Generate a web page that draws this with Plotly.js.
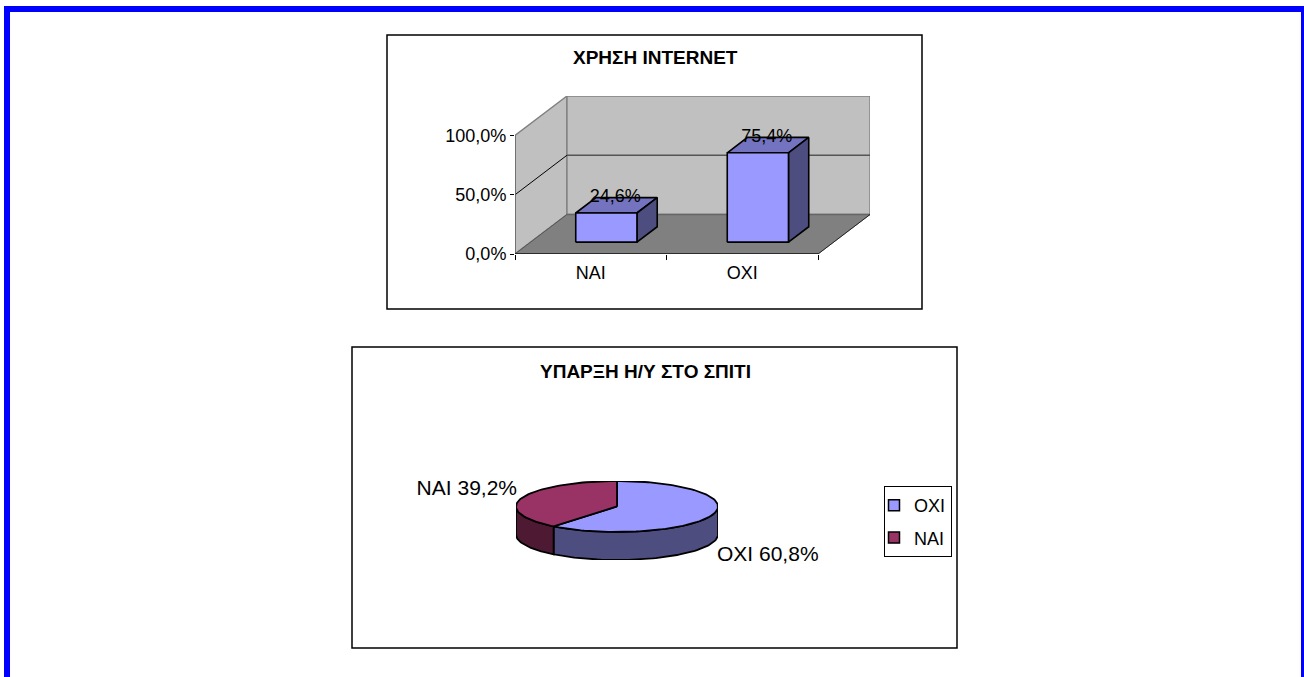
<!DOCTYPE html>
<html><head><meta charset="utf-8">
<script src="https://cdn.plot.ly/plotly-3.0.1.min.js"></script>
<style>html,body{margin:0;padding:0;background:#fff}#c{width:1304px;height:677px}</style>
</head><body><div id="c"></div>
<script>
// Data
const barTitle = 'ΧΡΗΣΗ INTERNET';
const barCategories = ['ΝΑΙ', 'ΟΧΙ'];
const barValues = [24.6, 75.4];
const barTicks = [0, 50, 100];
const pieTitle = 'ΥΠΑΡΞΗ Η/Υ ΣΤΟ ΣΠΙΤΙ';
const pieCategories = ['ΟΧΙ', 'ΝΑΙ'];
const pieValues = [60.8, 39.2];

// Colours
const FILL = ['#9999FF', '#993366'], SIDE = ['#4D4D80', '#4D1933'];
const BARTOP = '#7373BF', WALL = '#C0C0C0', FLOOR = '#808080', EDGE = '#808080';
const W = 1304, H = 677;
const px = v => v / W, py = v => 1 - v / H;
const FONT = 'Liberation Sans, Arial, sans-serif';
const comma = v => v.toFixed(1).replace('.', ',') + '%';

// Pseudo-3D projection of the bar chart: category, value, depth (0 front .. 1 back)
const DX = 0.343, DY = 33.33;
const P = (c, v, d) => [c + d * DX, v + d * DY];
function poly(pts, fill, line, lw, xa) {
  return { type: 'scatter', mode: 'lines', x: pts.map(p => p[0]).concat(pts[0][0]), y: pts.map(p => p[1]).concat(pts[0][1]),
    fill: 'toself', fillcolor: fill, line: { color: line, width: lw }, hoverinfo: 'skip', showlegend: false, xaxis: xa || 'x', yaxis: 'y', cliponaxis: false };
}
function seg(pts, color, lw, xa) {
  return { type: 'scatter', mode: 'lines', x: pts.map(p => p[0]), y: pts.map(p => p[1]), line: { color, width: lw },
    hoverinfo: 'skip', showlegend: false, xaxis: xa || 'x', yaxis: 'y', cliponaxis: false };
}
const nCat = barCategories.length, vMax = barTicks[barTicks.length - 1];
const traces = [];
traces.push(poly([P(0,0,0),P(0,vMax,0),P(0,vMax,1),P(0,0,1)], WALL, EDGE, 1.4));
traces.push(poly([P(0,0,1),P(0,vMax,1),P(nCat,vMax,1),P(nCat,0,1)], WALL, EDGE, 1.4));
traces.push(poly([P(0,0,0),P(nCat,0,0),P(nCat,0,1),P(0,0,1)], FLOOR, FLOOR, 1));
traces.push(seg([P(0,0,1),P(nCat,0,1)], '#666', 1.4));
traces.push(seg([P(0,50,0),P(0,50,1)], '#000', 1));
traces.push(seg([P(0,50,1),P(nCat,50,1)], '#555', 1.4));
traces.push(seg([P(0,0,0),P(0,0,1)], '#555', 1));
traces.push(seg([P(nCat,0,0),P(nCat,0,1)], '#222', 1));
traces.push(seg([P(0,0,0),P(0,vMax,0)], '#666', 1.5, 'x4'));
traces.push(seg([P(0,0,0),P(nCat,0,0)], '#111', 1.4, 'x4'));
const hw = 0.202, d0 = 0.3, d1 = 0.69;
barValues.forEach((v, i) => {
  const c = i + 0.5, a = c - hw, b = c + hw;
  traces.push(poly([P(a,v,d0),P(a,v,d1),P(b,v,d1),P(b,v,d0)], BARTOP, '#000', 1.6));
  traces.push(poly([P(b,0,d0),P(b,v,d0),P(b,v,d1),P(b,0,d1)], SIDE[0], '#000', 1.6));
  traces.push(poly([P(a,0,d0),P(a,v,d0),P(b,v,d0),P(b,0,d0)], FILL[0], '#000', 1.6));
});
traces.push({ type: 'scatter', mode: 'text', x: barValues.map((v,i) => P(i+0.5,v,0.47)[0]), y: barValues.map((v,i) => P(i+0.5,v,0.47)[1]),
  text: barValues.map(comma), textposition: 'top center', textfont: { family: FONT, size: 18, color: '#000' },
  hoverinfo: 'skip', showlegend: false, xaxis: 'x', yaxis: 'y', cliponaxis: false });

// Pseudo-3D pie: each slice's sweep comes from its value
const THICK = 1.1, total = pieValues.reduce((a, b) => a + b, 0), LABR = 1.05, LABDROP = 0.08;
const ang = []; let acc = 0;
pieValues.forEach(v => { ang.push([acc, acc + v / total * 360]); acc += v / total * 360; });
const rad = a => a * Math.PI / 180;
const pt = (a, drop) => [Math.sin(rad(a)), Math.cos(rad(a)) - (drop || 0)];
function arc(a0, a1, drop) { const n = Math.max(2, Math.ceil(Math.abs(a1 - a0) / 2)), o = []; for (let i = 0; i <= n; i++) o.push(pt(a0 + (a1 - a0) * i / n, drop)); return o; }
function ppoly(pts, fill) {
  return { type: 'scatter', mode: 'lines', x: pts.map(p => p[0]).concat(pts[0][0]), y: pts.map(p => p[1]).concat(pts[0][1]), fill: 'toself', fillcolor: fill,
    line: { color: '#000', width: 1.8 }, hoverinfo: 'skip', showlegend: false, xaxis: 'x3', yaxis: 'y3', cliponaxis: false };
}
// rim: visible on the front half (90..270 deg clockwise from the top)
ang.forEach(([a0, a1], i) => {
  const s = Math.max(a0, 90), e = Math.min(a1, 270);
  if (e > s) traces.push(ppoly(arc(s, e, 0).concat(arc(e, s, THICK)), SIDE[i]));
});
ang.forEach(([a0, a1], i) => traces.push(ppoly([[0, 0]].concat(arc(a0, a1, 0)), FILL[i])));
const lab = ang.map(([a0, a1]) => (a0 + a1) / 2);
traces.push({ type: 'scatter', mode: 'text', x: lab.map(a => pt(a)[0] * LABR), y: lab.map(a => pt(a, (Math.cos(rad(a)) < 0 ? THICK : 0) + LABDROP)[1]),
  text: pieCategories.map((c, i) => c + ' ' + comma(pieValues[i])), textposition: ['bottom right', 'top left'],
  textfont: { family: FONT, size: 21, color: '#000' }, hoverinfo: 'skip', showlegend: false, xaxis: 'x3', yaxis: 'y3', cliponaxis: false });
// legend entries
pieCategories.forEach((c, i) => traces.push({ type: 'scatter', mode: 'markers', name: c, legendgroup: c, x: [null], y: [null], xaxis: 'x3', yaxis: 'y3',
  marker: { symbol: 'square', size: 11, color: FILL[i], line: { color: '#000', width: 1.5 } } }));

const rect = (x0, y0, x1, y1, line, w, fill) => ({ type: 'rect', xref: 'paper', yref: 'paper', x0: px(x0), x1: px(x1), y0: py(y0), y1: py(y1),
  line: { color: line, width: w }, fillcolor: fill || 'rgba(0,0,0,0)', layer: 'below' });

const layout = {
  width: W, height: H, margin: { l: 0, r: 0, t: 0, b: 0 }, paper_bgcolor: '#fff', plot_bgcolor: 'rgba(0,0,0,0)', showlegend: true,
  font: { family: FONT, color: '#000' },
  xaxis: { domain: [px(515), px(870)], range: [0, nCat + DX], anchor: 'y', tickvals: barCategories.map((c, i) => i + 0.5), ticktext: barCategories,
    ticks: '', ticklabelstandoff: 6, showgrid: false, zeroline: false, showline: false, tickfont: { family: FONT, size: 18 }, fixedrange: true },
  xaxis4: { overlaying: 'x', domain: [px(515), px(870)], range: [0, nCat + DX], anchor: 'y', tickvals: barCategories.map((c, i) => i).concat(nCat), ticks: 'outside', ticklen: 5, tickcolor: '#000',
    showticklabels: false, showgrid: false, zeroline: false, showline: false, fixedrange: true },
  yaxis: { domain: [py(254), py(96)], range: [0, vMax + DY], anchor: 'x', tickvals: barTicks, ticktext: barTicks.map(comma), ticks: 'outside', ticklen: 4, tickcolor: '#000',
    showgrid: false, zeroline: false, showline: false, tickfont: { family: FONT, size: 18 }, fixedrange: true },
  xaxis3: { domain: [px(516), px(718)], range: [-1, 1], anchor: 'y3', visible: false, fixedrange: true },
  yaxis3: { domain: [py(560), py(481)], range: [-1 - THICK, 1], anchor: 'x3', visible: false, fixedrange: true },
  legend: { x: px(884), xanchor: 'left', y: py(486), yanchor: 'top', bgcolor: '#fff', bordercolor: '#000', borderwidth: 1, indentation: -11, tracegroupgap: 6,
    font: { family: FONT, size: 18 }, itemclick: false, itemdoubleclick: false },
  annotations: [
    { text: '<b>' + barTitle + '</b>', xref: 'paper', yref: 'paper', x: px(655), y: py(57), xanchor: 'center', yanchor: 'middle', showarrow: false, font: { family: FONT, size: 19 } },
    { text: '<b>' + pieTitle + '</b>', xref: 'paper', yref: 'paper', x: px(645), y: py(371), xanchor: 'center', yanchor: 'middle', showarrow: false, font: { family: FONT, size: 19 } }
  ],
  shapes: [
    rect(4, 6, 10, H, 'rgba(0,0,0,0)', 0, '#0000FF'),
    rect(4, 6, W, 12, 'rgba(0,0,0,0)', 0, '#0000FF'),
    rect(1301, 6, W, H, 'rgba(0,0,0,0)', 0, '#0000FF'),
    rect(387, 35, 922, 309, '#000', 1.5, '#fff'),
    rect(352, 347, 957, 648, '#000', 1.5, '#fff')
  ]
};
Plotly.newPlot('c', traces, layout, { displayModeBar: false, staticPlot: true });
</script></body></html>
